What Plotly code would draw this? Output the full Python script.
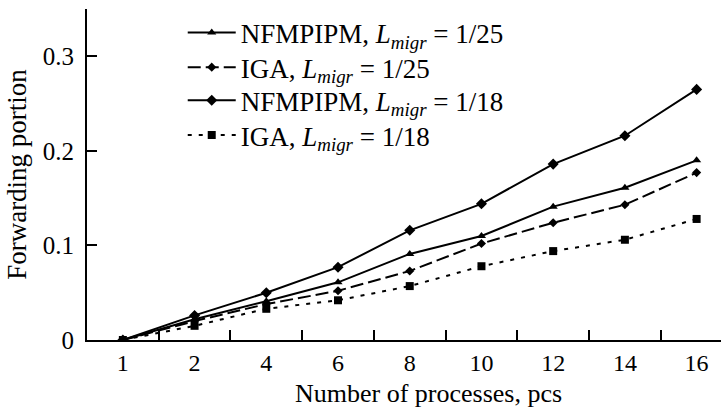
import plotly.graph_objects as go

categories = ["1", "2", "4", "6", "8", "10", "12", "14", "16"]
nfm_25 = [0.0, 0.022, 0.041, 0.061, 0.091, 0.110, 0.141, 0.161, 0.190]
iga_25 = [0.0, 0.020, 0.038, 0.052, 0.073, 0.102, 0.124, 0.143, 0.177]
nfm_18 = [0.0, 0.026, 0.050, 0.077, 0.116, 0.144, 0.186, 0.216, 0.265]
iga_18 = [0.0, 0.015, 0.033, 0.042, 0.057, 0.078, 0.094, 0.106, 0.128]

names = [
    "NFMPIPM, <i>L<sub>migr</sub></i> = 1/25",
    "IGA, <i>L<sub>migr</sub></i> = 1/25",
    "NFMPIPM, <i>L<sub>migr</sub></i> = 1/18",
    "IGA, <i>L<sub>migr</sub></i> = 1/18",
]
legend_rows = [0.928, 0.823, 0.723, 0.618]

FONT = "Liberation Serif, Times New Roman, serif"

fig = go.Figure()
fig.add_trace(go.Scatter(x=categories, y=nfm_25, name=names[0], mode="lines+markers",
                         legend="legend",
                         line=dict(color="black", width=2),
                         marker=dict(symbol="triangle-up", size=8, color="black")))
fig.add_trace(go.Scatter(x=categories, y=iga_25, name=names[1], mode="lines+markers",
                         legend="legend2",
                         line=dict(color="black", width=2, dash="13px,5px"),
                         marker=dict(symbol="diamond", size=7, color="black")))
fig.add_trace(go.Scatter(x=categories, y=nfm_18, name=names[2], mode="lines+markers",
                         legend="legend3",
                         line=dict(color="black", width=2),
                         marker=dict(symbol="diamond", size=8.5, color="black")))
fig.add_trace(go.Scatter(x=categories, y=iga_18, name=names[3], mode="lines+markers",
                         legend="legend4",
                         line=dict(color="black", width=2, dash="4px,7px"),
                         marker=dict(symbol="square", size=8, color="black")))

def leg(yv):
    return dict(x=0.151, y=yv, xanchor="left", yanchor="middle", itemwidth=48,
                bgcolor="rgba(0,0,0,0)", font=dict(size=27, family=FONT, color="black"))

fig.update_layout(
    width=721, height=409,
    margin=dict(l=87, r=0, t=9, b=69),
    paper_bgcolor="white", plot_bgcolor="white",
    font=dict(family=FONT, size=26, color="black"),
    showlegend=True,
    legend=leg(legend_rows[0]),
    legend2=leg(legend_rows[1]),
    legend3=leg(legend_rows[2]),
    legend4=leg(legend_rows[3]),
    xaxis=dict(type="category", range=[-0.5, 8.34], showline=True, linecolor="black",
               linewidth=2, ticks="inside", tickson="boundaries", ticklen=10,
               tickwidth=2, tickcolor="black", showgrid=False, zeroline=False,
               tickfont=dict(size=24), ticklabelstandoff=0),
    yaxis=dict(range=[0, 0.35], tickvals=[0, 0.1, 0.2, 0.3], ticktext=["0", "0.1", "0.2", "0.3"],
               showline=True, linecolor="black", linewidth=2, ticks="inside",
               ticklen=10, tickwidth=2, tickcolor="black", showgrid=False, zeroline=False,
               tickfont=dict(size=25), ticklabelstandoff=6,
               title=dict(text="Forwarding portion", standoff=8, font=dict(size=27))),
    annotations=[dict(text="Number of processes, pcs", xref="paper", yref="paper",
                      x=0.538, y=-0.163, xanchor="center", yanchor="middle", borderpad=0,
                      showarrow=False, font=dict(size=26, family=FONT, color="black"))],
)

fig.write_html("out.html")
